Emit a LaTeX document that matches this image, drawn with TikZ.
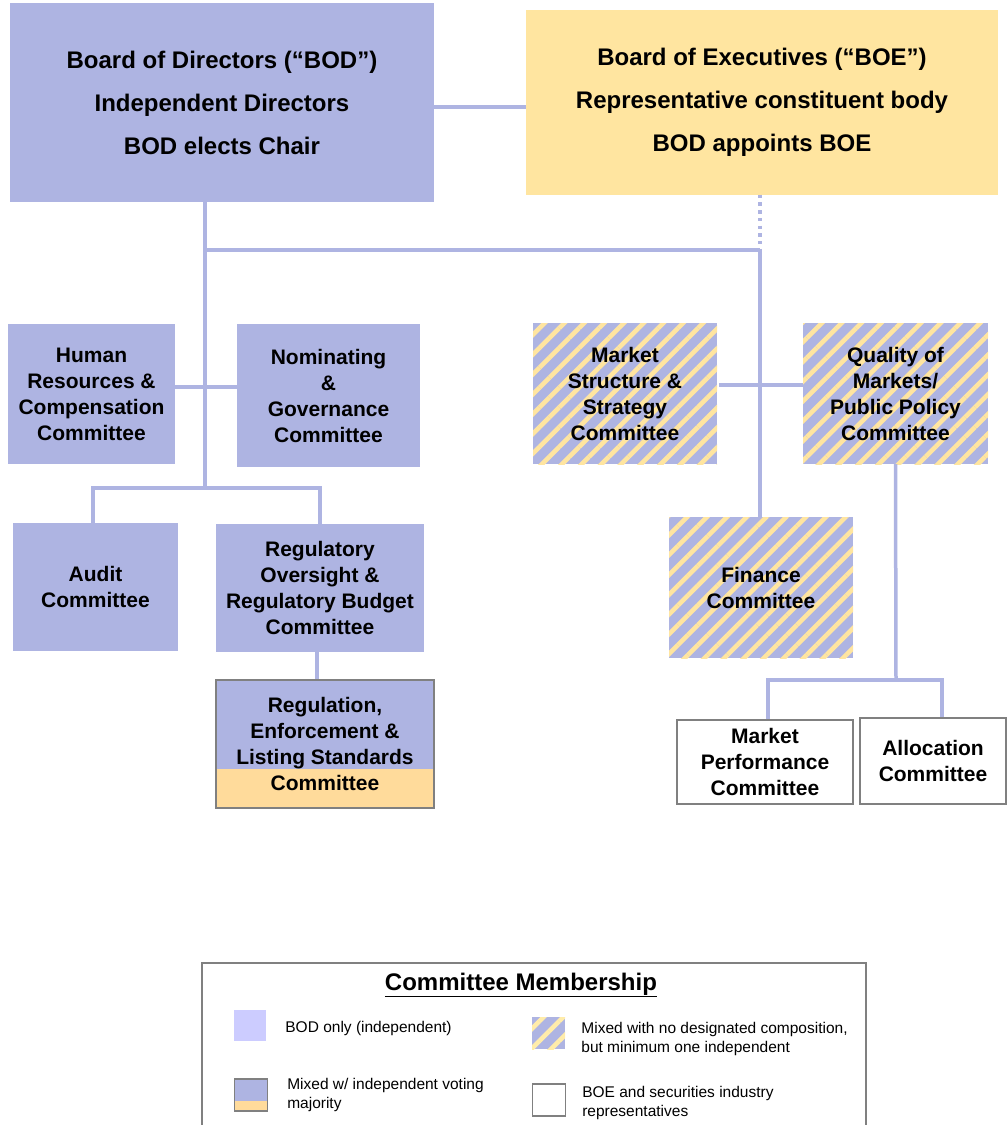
\documentclass[tikz,border=0pt]{standalone}
\usepackage{fontspec}
\setmainfont{Liberation Sans}
\usetikzlibrary{positioning, patterns.meta}

\definecolor{bodblue}{RGB}{174,180,226}
\definecolor{boeyellow}{RGB}{255,229,160}
\definecolor{relyellow}{RGB}{255,219,155}
\definecolor{swatchblue}{RGB}{204,204,255}
\definecolor{swatchyellow}{RGB}{255,236,170}
\definecolor{edgegray}{RGB}{128,128,128}

\begin{document}
\begin{tikzpicture}[x=1pt, y=-1pt,
  box/.style={rectangle, inner sep=0pt, align=center, font=\fontsize{21}{26}\selectfont\bfseries},
  bodbox/.style={box, fill=bodblue},
  stripes/.style={preaction={fill=bodblue}, pattern={Lines[angle=45, distance=14pt, line width=4.6pt]}, pattern color=#1},
  mixbox/.style={box, stripes=boeyellow},
  boebox/.style={box, fill=white, draw=edgegray, line width=1.5pt},
  board/.style={rectangle, inner sep=0pt, align=center, font=\fontsize{24}{43}\selectfont\bfseries},
  conn/.style={draw=bodblue, line width=3.5pt},
  legtext/.style={inner sep=0pt, align=left, anchor=west, font=\fontsize{15.5}{19}\selectfont},
  swatch/.style={rectangle, inner sep=0pt, minimum width=33pt, minimum height=32pt}
]
\useasboundingbox (0,0) rectangle (1008,1125);

% boards
\node[board, fill=bodblue, minimum width=424pt, minimum height=199pt] (bod) at (222,102.5)
  {Board of Directors (``BOD'')\\Independent Directors\\BOD elects Chair};
\node[board, fill=boeyellow, minimum width=472pt, minimum height=185pt] (boe) at (762,102)
  {Board of Executives (``BOE'')\\Representative constituent body\\BOD appoints BOE};

% committees
\node[bodbox, minimum width=167pt, minimum height=140pt] (hr) at (91.5,394)
  {Human\\Resources \&\\Compensation\\Committee};
\node[bodbox, minimum width=183pt, minimum height=143pt] (nom) at (328.5,395.5)
  {Nominating\\\&\\Governance\\Committee};
\node[bodbox, minimum width=165pt, minimum height=128pt] (audit) at (95.5,587)
  {Audit\\Committee};
\node[bodbox, minimum width=208pt, minimum height=128pt] (regov) at (320,588)
  {Regulatory\\Oversight \&\\Regulatory Budget\\Committee};
\node[bodbox, draw=edgegray, line width=1.5pt, minimum width=218pt, minimum height=128pt,
  path picture={\fill[relyellow] (path picture bounding box.south west) rectangle ([yshift=39pt]path picture bounding box.south east);}]
  (rel) at (325,744)
  {Regulation,\\Enforcement \&\\Listing Standards\\Committee};
\node[mixbox, minimum width=184pt, minimum height=141pt] (mss) at (625,393.5)
  {Market\\Structure \&\\Strategy\\Committee};
\node[mixbox, minimum width=185pt, minimum height=141pt] (qmpp) at (895.5,393.5)
  {Quality of\\Markets/\\Public Policy\\Committee};
\node[mixbox, minimum width=184pt, minimum height=141pt] (fin) at (761,587.5)
  {Finance\\Committee};
\node[boebox, minimum width=176pt, minimum height=84pt] (mperf) at (765,762)
  {Market\\Performance\\Committee};
\node[boebox, minimum width=146pt, minimum height=86pt] (alloc) at (933,761)
  {Allocation\\Committee};

\coordinate (bodj) at (205,250);
\coordinate (boej) at (760,250);
\coordinate (hrj) at (205,387);
\coordinate (mssj) at (760,385);
\coordinate (qj) at (896,680);

% connectors
\draw[conn] ([yshift=-4.5pt]bod.east) -- ([yshift=-4.5pt]bod.east -| boe.west);
\draw[conn] (bod.south -| bodj) -- (205,490);
\draw[conn] (bodj) -- (boej);
\draw[draw=bodblue, line width=3.5pt, dash pattern=on 3.5pt off 4.2pt] (boe.south -| boej) -- (boej);
\draw[conn] (boej) -- (boej |- fin.north);
\draw[conn] (hr.east |- hrj) -- (nom.west |- hrj);
\draw[conn] (mss.east |- mssj) -- (qmpp.west |- mssj);
\draw[conn] ([xshift=-2.5pt]audit.north) -- ++(0,-35) -| (regov.north);
\draw[conn] ([xshift=-3pt]regov.south) -- ([xshift=-3pt]regov.south |- rel.north);
\draw[conn] (qmpp.south) -- (qj);
\draw[conn] ([xshift=3pt]mperf.north) |- ([xshift=9pt]alloc.north |- qj) -- ([xshift=9pt]alloc.north);

% legend
\draw[edgegray, line width=1.5pt] (202,1125) |- (866,963) -- (866,1125);
\node[inner sep=0pt, font=\fontsize{24}{28}\selectfont\bfseries] (legtitle) at (521,985)
  {\underline{Committee Membership}};
\node[swatch, fill=swatchblue, minimum width=32pt, minimum height=31pt] (sw1) at (250,1025.5) {};
\node[legtext, right=19pt of sw1, yshift=-3pt] (lt1) {BOD only (independent)};
\node[swatch, stripes=swatchyellow] (sw2) at (548.5,1033) {};
\node[legtext, right=16pt of sw2, yshift=-6pt] (lt2) {Mixed with no designated composition,\\but minimum one independent};
\node[swatch, fill=bodblue, draw=edgegray, line width=1.2pt,
  path picture={\fill[relyellow] (path picture bounding box.south west) rectangle ([yshift=10pt]path picture bounding box.south east);}]
  (sw3) at (251,1095) {};
\node[legtext, right=19pt of sw3] (lt3) {Mixed w/ independent voting\\majority};
\node[swatch, fill=white, draw=edgegray, line width=1.2pt] (sw4) at (549,1100) {};
\node[legtext, right=16pt of sw4, yshift=-3pt] (lt4) {BOE and securities industry\\representatives};
\end{tikzpicture}
\end{document}
